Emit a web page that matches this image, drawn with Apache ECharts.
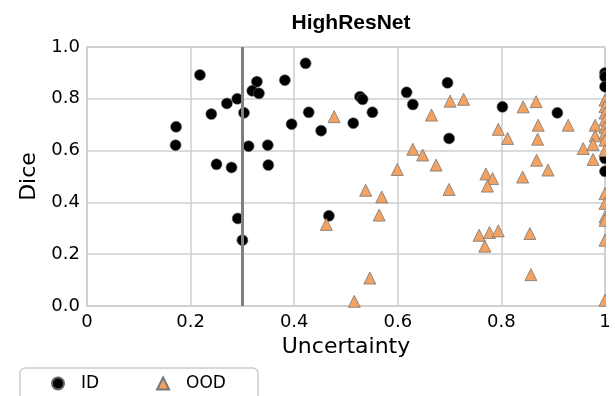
<!DOCTYPE html>
<html>
<head>
<meta charset="utf-8">
<script src="https://cdn.jsdelivr.net/npm/echarts@6/dist/echarts.min.js"></script>
<style>
  html, body { margin: 0; padding: 0; background: #fff; }
  #chart { width: 615px; height: 396px; }
</style>
</head>
<body>
<div id="chart"></div>
<script>
/* HighResNet: Dice vs Uncertainty, ID / OOD samples */

const idX = [0.218, 0.328, 0.319, 0.332, 0.290, 0.270, 0.240, 0.303, 0.172, 0.171,
    0.312, 0.250, 0.279, 0.422, 0.382, 0.527, 0.532, 0.428, 0.551, 0.617,
    0.629, 0.395, 0.452, 0.514, 0.349, 0.350, 0.696, 0.802, 0.908, 0.699,
    0.467, 0.291, 0.300, 1.0, 1.0, 1.0, 1.0, 1.0];
const idY = [0.892, 0.866, 0.831, 0.821, 0.800, 0.782, 0.741, 0.746, 0.692, 0.621,
    0.617, 0.547, 0.535, 0.937, 0.872, 0.808, 0.798, 0.748, 0.748, 0.825,
    0.778, 0.702, 0.677, 0.706, 0.621, 0.544, 0.862, 0.769, 0.746, 0.647,
    0.348, 0.338, 0.254, 0.900, 0.885, 0.847, 0.570, 0.520];

const oodX = [0.477, 0.629, 0.648, 0.599, 0.665, 0.701, 0.727, 0.842, 0.867, 0.871,
    0.929, 0.981, 0.794, 0.812, 0.870, 0.981, 0.977, 0.958, 0.674, 0.770,
    0.783, 0.773, 0.868, 0.890, 0.841, 0.977, 0.699, 0.538, 0.569, 0.462,
    0.564, 0.546, 0.516, 0.757, 0.777, 0.794, 0.768, 0.855, 0.857,
    1.0, 1.0, 1.0, 1.0, 1.0, 1.0, 1.0, 1.0, 1.0, 1.0, 1.0, 1.0, 1.0, 1.0];
const oodY = [0.731, 0.605, 0.583, 0.527, 0.737, 0.791, 0.798, 0.769, 0.789, 0.698,
    0.698, 0.698, 0.682, 0.647, 0.644, 0.657, 0.624, 0.608, 0.544, 0.510,
    0.492, 0.463, 0.563, 0.525, 0.498, 0.566, 0.450, 0.447, 0.421, 0.315,
    0.351, 0.108, 0.018, 0.273, 0.284, 0.290, 0.231, 0.280, 0.121,
    0.795, 0.770, 0.745, 0.718, 0.690, 0.667, 0.640, 0.600, 0.434, 0.396, 0.344, 0.331, 0.254, 0.022];

const threshold = 0.30;
const xTicks = { 0: '0', 0.2: '0.2', 0.4: '0.4', 0.6: '0.6', 0.8: '0.8', 1: '1' };

function pairs(xs, ys) {
    let out = [];
    for (let i = 0; i < xs.length; i++) out.push([xs[i], ys[i]]);
    return out;
}

const FONT = 'DejaVu Sans';
const GRID = '#cfcfcf';

let option = {
    animation: false,
    backgroundColor: '#fff',
    title: {
        text: 'HighResNet',
        left: 346,
        textAlign: 'center',
        top: 8,
        textStyle: { fontFamily: 'Liberation Sans', fontWeight: 'bold', fontSize: 21, color: '#000' }
    },
    grid: {
        left: 87, right: 10, top: 47, bottom: 90,
        show: true, borderColor: GRID, borderWidth: 1.5
    },
    xAxis: {
        type: 'value', min: 0, max: 1, interval: 0.2,
        name: 'Uncertainty', nameLocation: 'middle', nameGap: 30,
        nameTextStyle: { fontFamily: FONT, fontSize: 22, color: '#000' },
        axisLine: { lineStyle: { color: GRID, width: 1.5 } },
        axisTick: { show: false },
        axisLabel: {
            fontFamily: FONT, fontSize: 18, color: '#000', margin: 7,
            formatter: v => xTicks[v] !== undefined ? xTicks[v] : v
        },
        splitLine: { lineStyle: { color: GRID, width: 1.5 } }
    },
    yAxis: {
        type: 'value', min: 0, max: 1, interval: 0.2,
        name: 'Dice', nameLocation: 'middle', nameGap: 47,
        nameTextStyle: { fontFamily: FONT, fontSize: 22, color: '#000' },
        axisLine: { show: true, lineStyle: { color: GRID, width: 1.5 } },
        axisTick: { show: false },
        axisLabel: {
            fontFamily: FONT, fontSize: 18, color: '#000', margin: 7,
            formatter: v => v.toFixed(1)
        },
        splitLine: { lineStyle: { color: GRID, width: 1.5 } }
    },
    legend: {
        left: 20, top: 368,
        padding: [7, 32, 20, 31],
        borderColor: '#cccccc', borderWidth: 1.5, borderRadius: 5,
        itemWidth: 12, itemHeight: 12, itemGap: 57,
        textStyle: { fontFamily: FONT, fontSize: 17, color: '#000', padding: [0, 0, 0, 12] },
        data: [{ name: 'ID', icon: 'circle' }, { name: 'OOD', icon: 'triangle' }]
    },
    series: [{
        type: 'scatter',
        name: 'ID',
        symbol: 'circle',
        symbolSize: 11,
        data: pairs(idX, idY),
        itemStyle: { color: '#000', borderColor: '#666', borderWidth: 0.6, opacity: 1 },
        markLine: {
            silent: true,
            symbol: 'none',
            label: { show: false },
            lineStyle: { color: '#808080', width: 3, type: 'solid' },
            data: [{ xAxis: threshold }]
        },
        z: 3
    }, {
        type: 'scatter',
        name: 'OOD',
        symbol: 'triangle',
        symbolSize: 12,
        data: pairs(oodX, oodY),
        itemStyle: { color: '#f4a261', borderColor: '#777', borderWidth: 0.8, opacity: 1 },
        z: 4
    }],
    graphic: [{
        // plot is clipped at its right edge
        type: 'rect', z: 100,
        shape: { x: 606, y: 30, width: 9, height: 290 },
        style: { fill: '#fff' }
    }]
};

let chart = echarts.init(document.getElementById('chart'));
chart.setOption(option);
</script>
</body>
</html>
